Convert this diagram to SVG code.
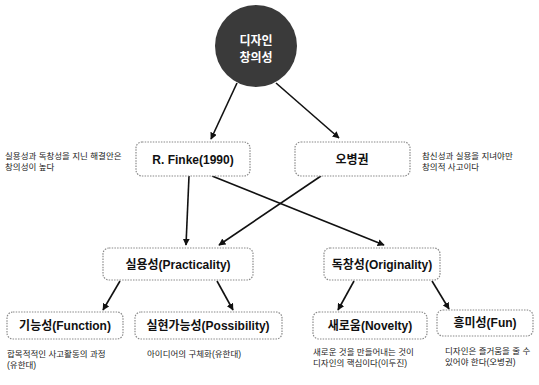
<svg xmlns="http://www.w3.org/2000/svg" width="539" height="385" viewBox="0 0 539 385">
<style>
.box{fill:#fff;stroke:#8a8a8a;stroke-width:1.2;stroke-dasharray:1.5 1.2}
.lbl{font-family:"Liberation Sans","Noto Sans CJK KR",sans-serif;font-weight:bold;font-size:12px;fill:#111;text-anchor:middle}
.note{font-family:"Liberation Sans","Noto Sans CJK KR",sans-serif;font-size:8.5px;fill:#222}
.ln{stroke:#111;stroke-width:1.6;fill:none}
</style>
<defs>
<marker id="ah" viewBox="0 0 10 10" refX="9" refY="5" markerWidth="7" markerHeight="7" orient="auto" markerUnits="userSpaceOnUse">
<path d="M0,0 L10,5 L0,10 z" fill="#111"/>
</marker>
</defs>
<rect width="539" height="385" fill="#fff"/>
<g id="connectors">
<line class="ln" x1="237" y1="83" x2="211" y2="139" marker-end="url(#ah)"/>
<line class="ln" x1="276" y1="83" x2="339" y2="138" marker-end="url(#ah)"/>
<line class="ln" x1="189" y1="176" x2="186" y2="245" marker-end="url(#ah)"/>
<line class="ln" x1="212" y1="176" x2="384" y2="245" marker-end="url(#ah)"/>
<line class="ln" x1="321" y1="176" x2="219" y2="245" marker-end="url(#ah)"/>
<line class="ln" x1="120" y1="281" x2="103" y2="310" marker-end="url(#ah)"/>
<line class="ln" x1="217" y1="281" x2="233" y2="310" marker-end="url(#ah)"/>
<line class="ln" x1="354" y1="281" x2="338" y2="310" marker-end="url(#ah)"/>
<line class="ln" x1="432" y1="281" x2="449" y2="309" marker-end="url(#ah)"/>
</g>
<g id="root">
<circle cx="256" cy="46" r="41" fill="#3a3a3a"/>
<text x="256" y="45" class="lbl" style="fill:#fff">디자인</text>
<text x="256" y="62" class="lbl" style="fill:#fff">창의성</text>
</g>
<g id="finke">
<rect class="box" x="136" y="142" width="114" height="34" rx="6"/>
<text x="193" y="164" class="lbl">R. Finke(1990)</text>
</g>
<g id="oh">
<rect class="box" x="295" y="142" width="115" height="34" rx="6"/>
<text x="352" y="164" class="lbl">오병권</text>
</g>
<g id="note-finke">
<text x="5" y="159" class="note">실용성과 독창성을 지닌 해결안은</text>
<text x="5" y="170" class="note">창의성이 높다</text>
</g>
<g id="note-oh">
<text x="422" y="159" class="note">참신성과 실용을 지녀야만</text>
<text x="422" y="170" class="note">창의적 사고이다</text>
</g>
<g id="practicality">
<rect class="box" x="103" y="248" width="150" height="32" rx="6"/>
<text x="178" y="269" class="lbl">실용성(Practicality)</text>
</g>
<g id="originality">
<rect class="box" x="324" y="248" width="116" height="32" rx="6"/>
<text x="382" y="269" class="lbl">독창성(Originality)</text>
</g>
<g id="function">
<rect class="box" x="7" y="312" width="116" height="27" rx="6"/>
<text x="65" y="330" class="lbl">기능성(Function)</text>
</g>
<g id="possibility">
<rect class="box" x="135" y="312" width="147" height="27" rx="6"/>
<text x="208" y="330" class="lbl">실현가능성(Possibility)</text>
</g>
<g id="novelty">
<rect class="box" x="313" y="312" width="114" height="27" rx="6"/>
<text x="370" y="330" class="lbl">새로움(Novelty)</text>
</g>
<g id="fun">
<rect class="box" x="437" y="310" width="96" height="26" rx="6"/>
<text x="485" y="327" class="lbl">흥미성(Fun)</text>
</g>
<g id="note-function">
<text x="7" y="357" class="note">합목적적인 사고활동의 과정</text>
<text x="7" y="368" class="note">(유한대)</text>
</g>
<g id="note-possibility">
<text x="147" y="357" class="note">아이디어의 구체화(유한대)</text>
</g>
<g id="note-novelty">
<text x="313" y="355" class="note">새로운 것을 만들어내는 것이</text>
<text x="313" y="366" class="note">디자인의 핵심이다(이두진)</text>
</g>
<g id="note-fun">
<text x="445" y="354" class="note">디자인은 즐거움을 줄 수</text>
<text x="445" y="365" class="note">있어야 한다(오병권)</text>
</g>
</svg>
